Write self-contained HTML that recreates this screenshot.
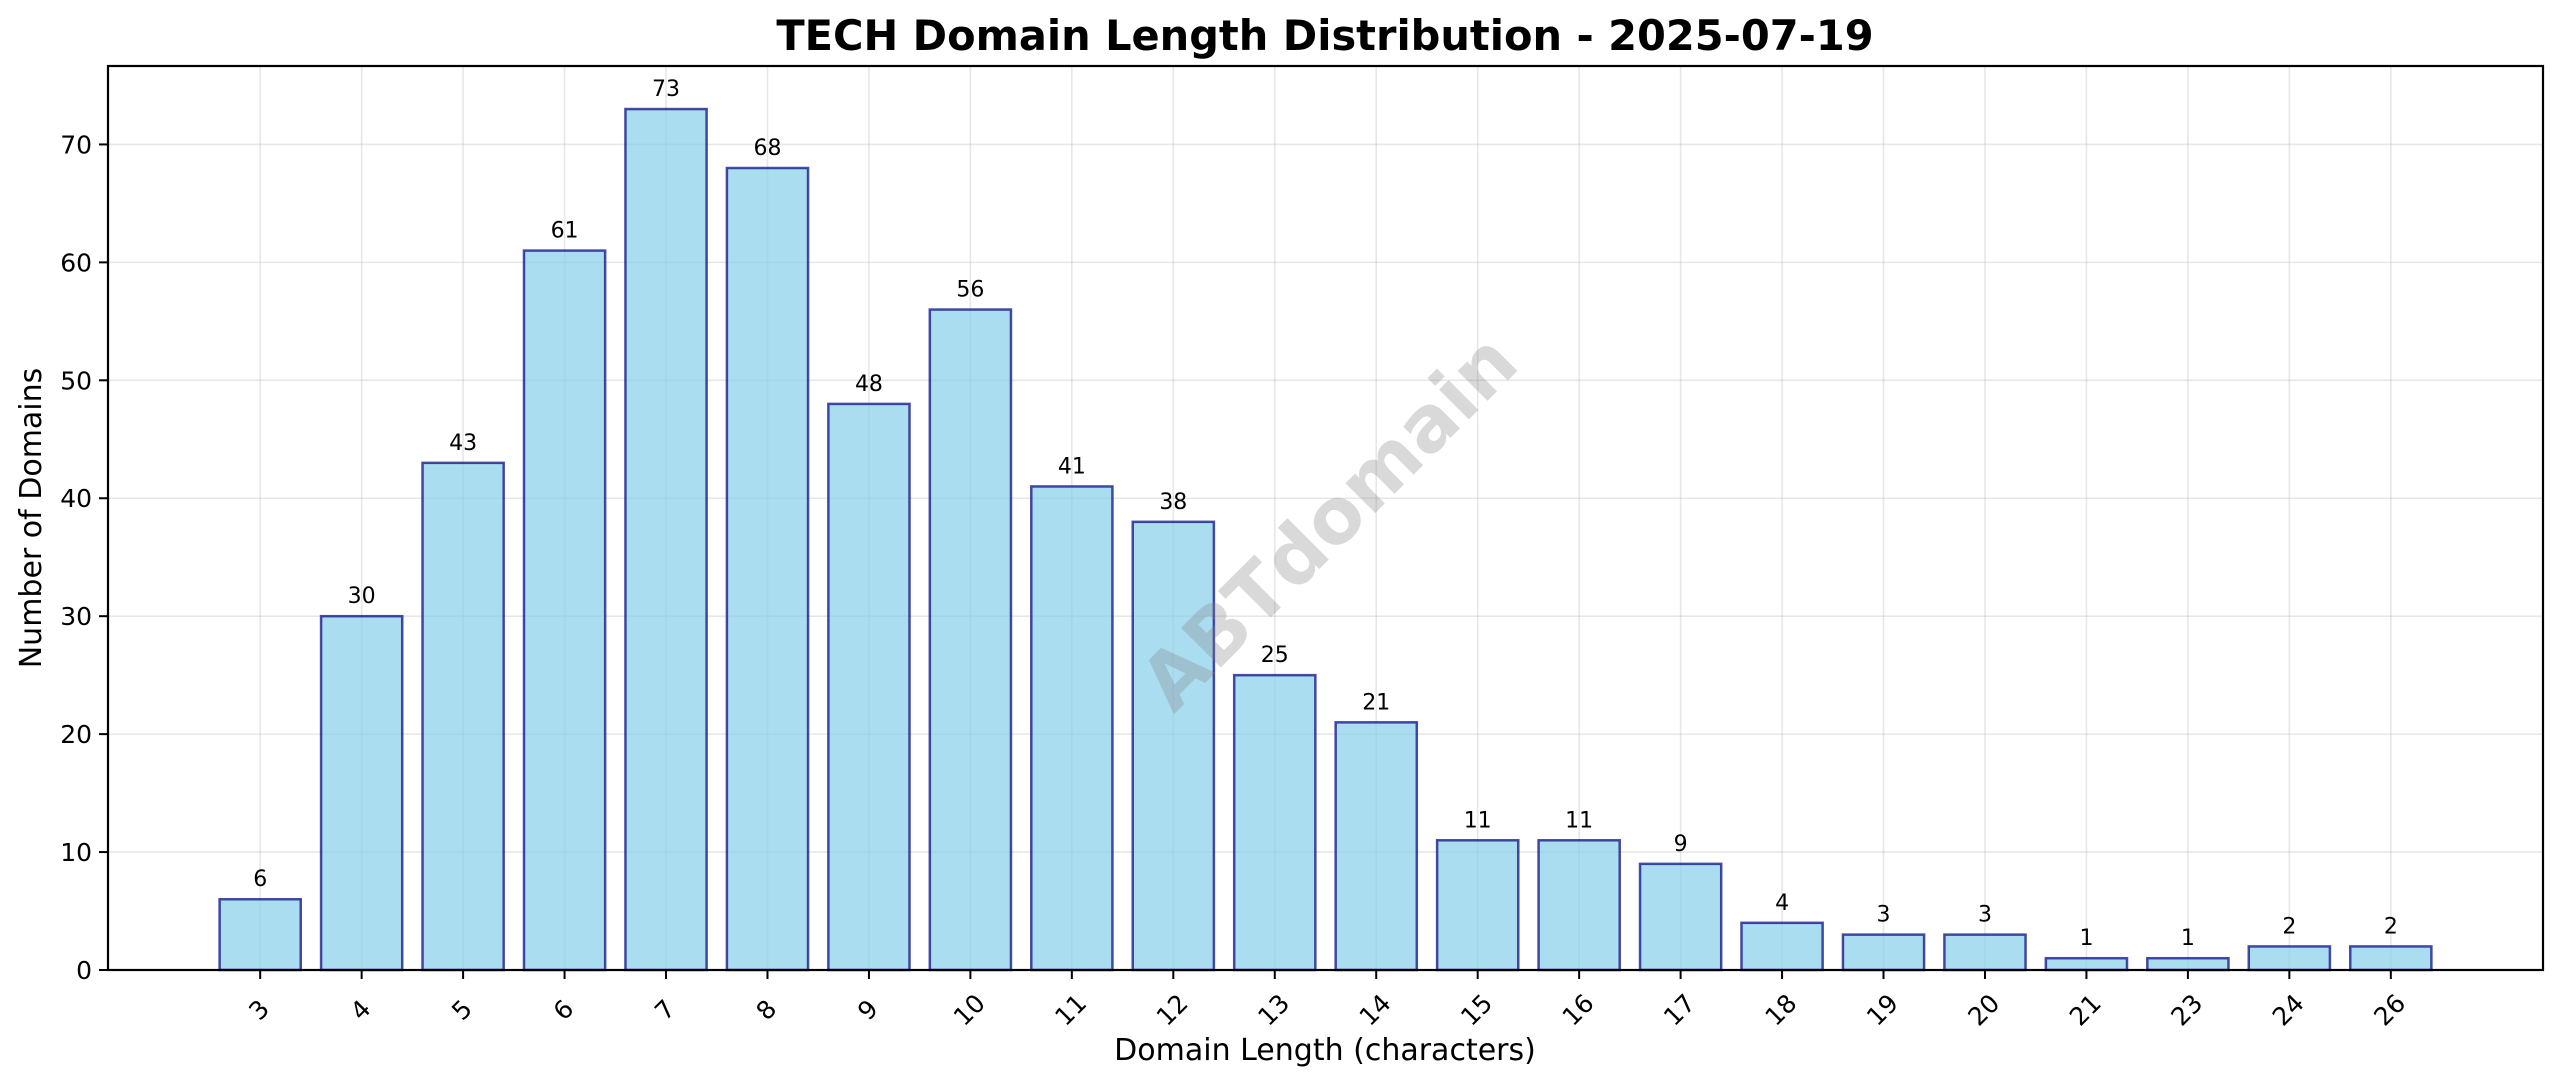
<!DOCTYPE html>
<html><head><meta charset="utf-8"><style>
html,body{margin:0;padding:0;background:#fff;}
svg{display:block;font-family:"DejaVu Sans","Liberation Sans",sans-serif;}
</style></head><body>
<svg id="chart" width="2560" height="1087" viewBox="0 0 2560 1087" xmlns="http://www.w3.org/2000/svg">
<rect width="2560" height="1087" fill="#fff"/>
<text x="1325" y="50" text-anchor="middle" font-size="41.5" font-weight="bold" fill="#000">TECH Domain Length Distribution - 2025-07-19</text>
<g id="grid"></g>
<g id="bars"></g>
<text x="1325" y="529" text-anchor="middle" dominant-baseline="middle" font-size="77" font-weight="bold" fill="#808080" fill-opacity="0.3" transform="rotate(-45 1325 518)">ABTdomain</text>
<g id="axes"></g>
<text x="1325" y="1060" text-anchor="middle" font-size="30" fill="#000">Domain Length (characters)</text>
<text x="0" y="0" text-anchor="middle" font-size="30" fill="#000" transform="translate(41 518) rotate(-90)">Number of Domains</text>
</svg>
<script>
const categories = ["3","4","5","6","7","8","9","10","11","12","13","14","15","16","17","18","19","20","21","23","24","26"];
const counts = [6,30,43,61,73,68,48,56,41,38,25,21,11,11,9,4,3,3,1,1,2,2];
const yTicks = [0,10,20,30,40,50,60,70];

const L=108, R=2543, T=66, B=970;
const n = categories.length;
const yMax = Math.max(...counts)*1.05;
const step = (R-L)/(n+2);
function xPos(i){ return L + step*(i+1.5); }
function yPos(v){ return B - (v/yMax)*(B-T); }
const NS="http://www.w3.org/2000/svg";
function mk(tag, attrs, parent){ const e=document.createElementNS(NS,tag); for(const k in attrs) e.setAttribute(k,attrs[k]); parent.appendChild(e); return e; }
const grid=document.getElementById('grid'), bars=document.getElementById('bars'), axes=document.getElementById('axes');

yTicks.forEach(t=>{
  const y=yPos(t);
  const g=mk('line',{x1:L,x2:R,y1:y,y2:y,stroke:'#b0b0b0','stroke-opacity':0.3,'stroke-width':1.6},grid);
  
  
  const tk=mk('line',{x1:L-9,x2:L,y1:y,y2:y,stroke:'#000','stroke-width':2},axes);
  
  
  const lb=mk('text',{x:L-16,y:y+9,'text-anchor':'end','font-size':25,fill:'#000'},axes);
  lb.textContent=t;
  
  
});

categories.forEach((c,i)=>{
  const x=xPos(i);
  const g=mk('line',{x1:x,x2:x,y1:T,y2:B,stroke:'#b0b0b0','stroke-opacity':0.3,'stroke-width':1.6},grid);
  
  
  const w=step*0.8, v=counts[i], y=yPos(v);
  const r=mk('rect',{x:x-w/2,y:y,width:w,height:B-y,fill:'#87CEEB','fill-opacity':0.7,stroke:'#000080','stroke-opacity':0.7,'stroke-width':2.5},bars);
  
  
  const vl=mk('text',{x:x,y:y-13,'text-anchor':'middle','font-size':22,fill:'#000'},bars);
  vl.textContent=v;
  
  
  const tk=mk('line',{x1:x,x2:x,y1:B,y2:B+9,stroke:'#000','stroke-width':2},axes);
  
  
  const lb=mk('text',{x:0,y:0,'text-anchor':'middle','dominant-baseline':'middle','font-size':25,fill:'#000',transform:'translate('+x+' '+(B+41)+') rotate(-45)'},axes);
  lb.textContent=c;
  
  
});

const frame=mk('rect',{x:L,y:T,width:R-L,height:B-T,fill:'none',stroke:'#000','stroke-width':2.2},axes);


</script>
</body></html>
